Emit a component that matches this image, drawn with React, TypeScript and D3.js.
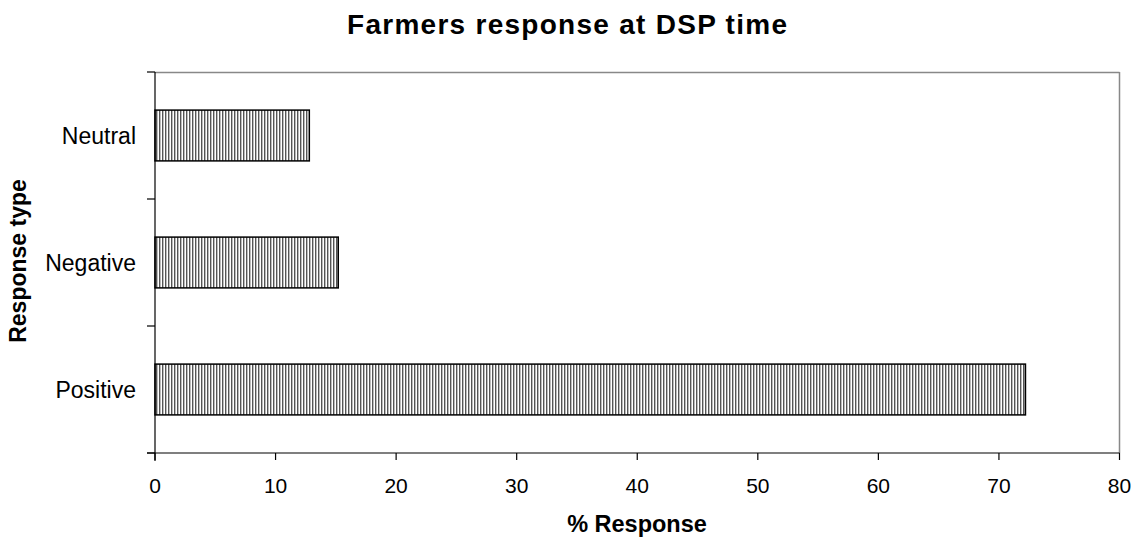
import React from "react";
import * as d3 from "d3";

const categories = ["Neutral", "Negative", "Positive"];
const values = [12.8, 15.2, 72.2];
const xTicks = [0, 10, 20, 30, 40, 50, 60, 70, 80];

const W = 1144, H = 542;
const left = 155, right = 1119.5, top = 72, bottom = 453;

export default function App() {
  const x = d3.scaleLinear().domain([0, 80]).range([left, right]);
  const y = d3.scaleBand().domain(categories).range([top, bottom]).padding(0);
  const bw = y.bandwidth();
  const barH = bw * 0.4;
  const font = "Liberation Sans, Arial, sans-serif";
  const boundaries = d3.range(categories.length + 1).map((i) => top + i * bw);
  return (
    <svg width={W} height={H} style={{ position: "absolute", left: 0, top: 0 }} fontFamily={font}>
      <defs>
        <pattern id="vlines" patternUnits="userSpaceOnUse" width={3} height={4}>
          <rect width={3} height={4} fill="#ffffff" />
          <rect x={0} width={1} height={4} fill="#555" />
          <rect x={1} width={1} height={4} fill="#bbb" />
        </pattern>
      </defs>
      <rect width={W} height={H} fill="#fff" />
      <text x={567} y={34} textAnchor="middle" fontSize={28} fontWeight="bold" textLength={440} lengthAdjust="spacing">Farmers response at DSP time</text>
      {/* frame */}
      <line x1={left} x2={right} y1={top + 0.5} y2={top + 0.5} stroke="#888" strokeWidth={1.5} />
      <line x1={right} x2={right} y1={top} y2={bottom} stroke="#888" strokeWidth={1.5} />
      {categories.map((c, i) => (
        <rect key={c} x={x(0)} y={(y(c) as number) + (bw - barH) / 2} width={x(values[i]) - x(0)} height={barH}
          fill="url(#vlines)" stroke="#000" strokeWidth={1.5} />
      ))}
      {/* axes */}
      <line x1={left} x2={left} y1={top} y2={bottom + 8} stroke="#000" strokeWidth={1.2} />
      <line x1={left - 8} x2={right} y1={bottom} y2={bottom} stroke="#000" strokeWidth={1.2} />
      {boundaries.map((b, i) => (
        <line key={i} x1={left - 8} x2={left} y1={b} y2={b} stroke="#000" strokeWidth={1.2} />
      ))}
      {xTicks.map((t) => (
        <g key={t}>
          <line x1={x(t)} x2={x(t)} y1={bottom} y2={bottom + 7} stroke="#000" strokeWidth={1.2} />
          <text x={x(t)} y={493} textAnchor="middle" fontSize={21}>{t}</text>
        </g>
      ))}
      {categories.map((c) => (
        <text key={c} x={136} y={(y(c) as number) + bw / 2 + 8} textAnchor="end" fontSize={23}>{c}</text>
      ))}
      <text x={637} y={532} textAnchor="middle" fontSize={23.5} fontWeight="bold">% Response</text>
      <text transform={`translate(26,261) rotate(-90)`} textAnchor="middle" fontSize={23} fontWeight="bold">Response type</text>
    </svg>
  );
}
